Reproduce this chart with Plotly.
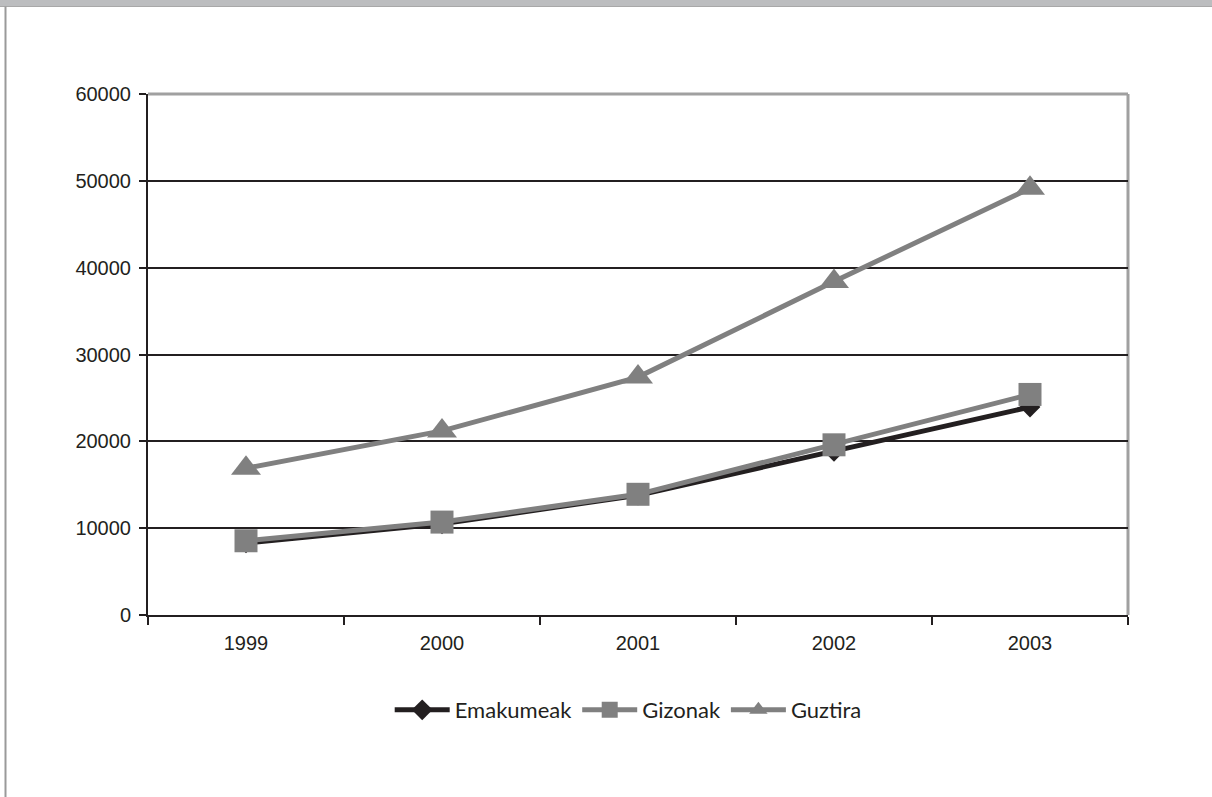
import plotly.graph_objects as go

# Yearly counts by sex
years = ["1999", "2000", "2001", "2002", "2003"]
emakumeak = [8300, 10500, 13800, 18850, 23950]
gizonak = [8550, 10700, 13900, 19600, 25400]
guztira = [16900, 21200, 27400, 38400, 49150]

W, H = 1212, 797
L, R, T, B = 148, 84, 94, 182
PW, PH = W - L - R, H - T - B


def px_x(px):
    return (px - L) / PW


def px_y(py):
    return (H - B - py) / PH


BLACK = "#231f20"
GREY = "#808080"

fig = go.Figure()
fig.add_trace(go.Scatter(
    x=years, y=emakumeak, name="Emakumeak", mode="lines+markers",
    line=dict(color=BLACK, width=5),
    marker=dict(symbol="diamond", size=16, color=BLACK),
))
fig.add_trace(go.Scatter(
    x=years, y=gizonak, name="Gizonak", mode="lines+markers",
    line=dict(color=GREY, width=5),
    marker=dict(symbol="square", size=23, color=GREY),
))
fig.add_trace(go.Scatter(
    x=years, y=guztira, name="Guztira", mode="lines+markers",
    line=dict(color=GREY, width=5),
    marker=dict(symbol="triangle-up", size=26, color=GREY),
))

shapes = [
    # plot-area top and right borders
    dict(type="line", xref="paper", yref="paper", x0=0, x1=1, y0=1, y1=1,
         line=dict(color="#a0a0a0", width=3), layer="above"),
    dict(type="line", xref="paper", yref="paper", x0=1, x1=1, y0=0, y1=1,
         line=dict(color="#a0a0a0", width=3), layer="below"),
    # outer frame: grey band on top, thin line on the left
    dict(type="rect", xref="paper", yref="paper", x0=px_x(0), x1=px_x(W),
         y0=px_y(6.5), y1=px_y(0), fillcolor="#bcbdbf", line=dict(width=0)),
    dict(type="line", xref="paper", yref="paper", x0=px_x(0), x1=px_x(W),
         y0=px_y(6.5), y1=px_y(6.5), line=dict(color="#a8a8a8", width=1)),
    dict(type="line", xref="paper", yref="paper", x0=px_x(5.5), x1=px_x(5.5),
         y0=px_y(H), y1=px_y(6.5), line=dict(color="#9a9a9a", width=2)),
]

fig.update_layout(
    width=W, height=H,
    margin=dict(l=L, r=R, t=T, b=B),
    paper_bgcolor="white", plot_bgcolor="white",
    font=dict(family="Liberation Sans, Arial, sans-serif", size=20, color=BLACK),
    shapes=shapes,
    showlegend=True,
    legend=dict(
        orientation="h", x=0.49, xanchor="center", y=px_y(710), yanchor="middle",
        font=dict(family="Lato, sans-serif", size=22, color=BLACK),
        itemwidth=55, bgcolor="rgba(0,0,0,0)",
    ),
    xaxis=dict(
        type="category", range=[-0.5, 4.5],
        showline=True, linecolor=BLACK, linewidth=2,
        ticks="outside", tickson="boundaries", ticklen=8, tickwidth=2, tickcolor=BLACK,
        showgrid=False, ticklabelstandoff=9, fixedrange=True,
    ),
    yaxis=dict(
        range=[0, 60000], tickvals=[0, 10000, 20000, 30000, 40000, 50000, 60000],
        ticktext=["0", "10000", "20000", "30000", "40000", "50000", "60000"],
        showline=True, linecolor=BLACK, linewidth=2,
        ticks="outside", ticklen=7, tickwidth=2, tickcolor=BLACK,
        showgrid=True, gridcolor=BLACK, gridwidth=2, zeroline=False,
        ticklabelstandoff=4, fixedrange=True,
    ),
)

fig.write_html("out.html")
